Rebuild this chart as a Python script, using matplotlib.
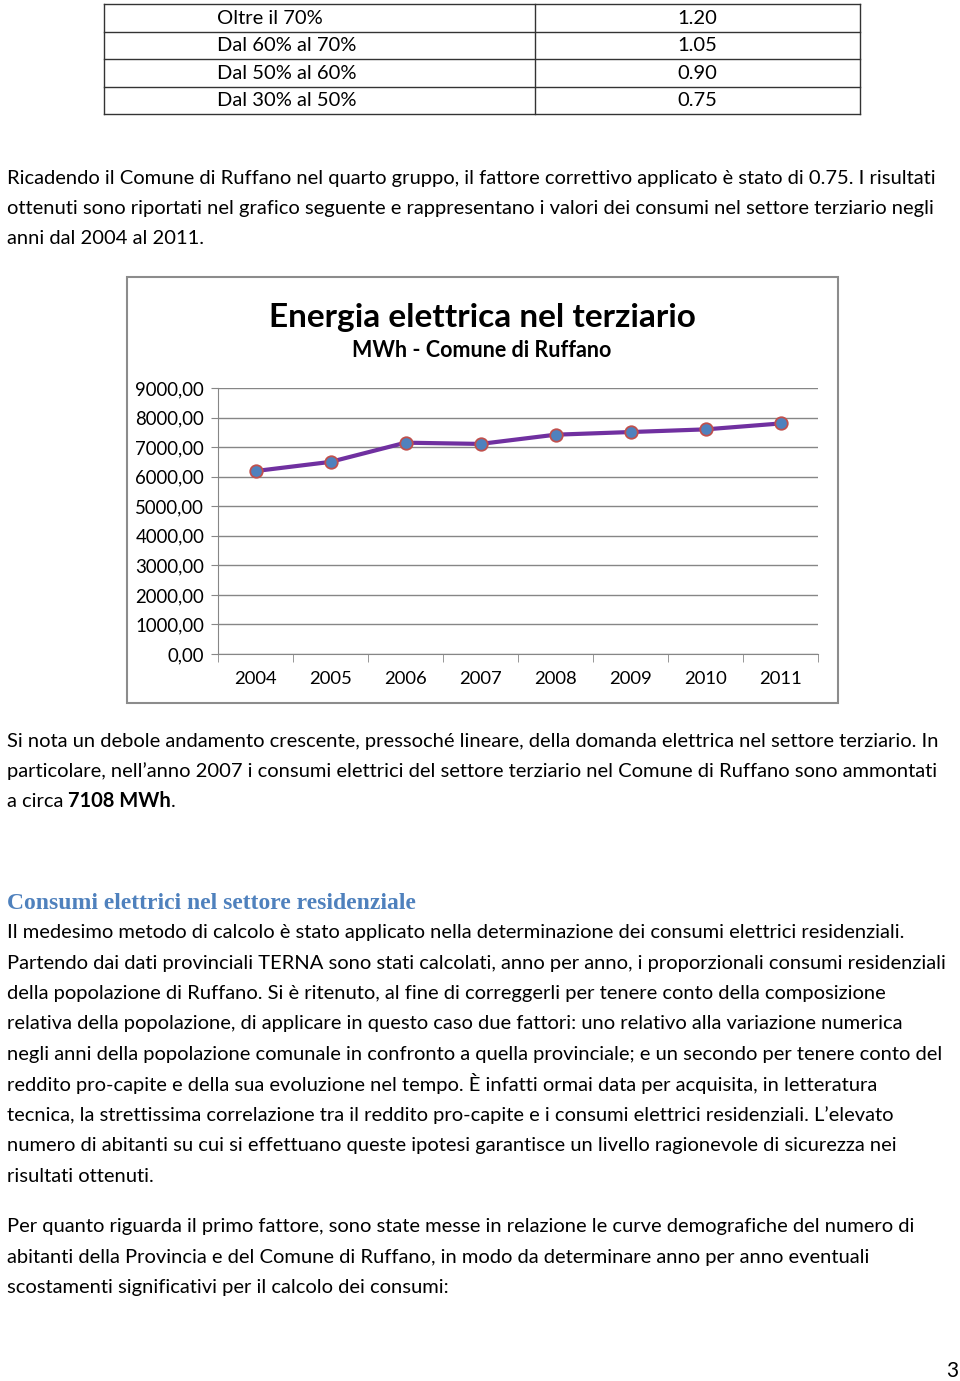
import matplotlib
matplotlib.use("Agg")
from matplotlib import pyplot as plt
from matplotlib.patches import Rectangle
from matplotlib.lines import Line2D

W, H = 960, 1381

# tabella fattori correttivi
fasce = ['Oltre il 70%', 'Dal 60% al 70%', 'Dal 50% al 60%', 'Dal 30% al 50%']
fattori = ['1.20', '1.05', '0.90', '0.75']

# dati del grafico
anni = ['2004', '2005', '2006', '2007', '2008', '2009', '2010', '2011']
consumi_mwh = [6190, 6500, 7150, 7108, 7420, 7510, 7600, 7800]
y_ticks = [0, 1000, 2000, 3000, 4000, 5000, 6000, 7000, 8000, 9000]

par_1 = ['Ricadendo il Comune di Ruffano nel quarto gruppo, il fattore correttivo applicato è stato di 0.75. I risultati',
         'ottenuti sono riportati nel grafico seguente e rappresentano i valori dei consumi nel settore terziario negli',
         'anni dal 2004 al 2011.']
par_2 = ['Si nota un debole andamento crescente, pressoché lineare, della domanda elettrica nel settore terziario. In',
         'particolare, nell’anno 2007 i consumi elettrici del settore terziario nel Comune di Ruffano sono ammontati']
titolo_sez = 'Consumi elettrici nel settore residenziale'
par_3 = ['Il medesimo metodo di calcolo è stato applicato nella determinazione dei consumi elettrici residenziali.',
         'Partendo dai dati provinciali TERNA sono stati calcolati, anno per anno, i proporzionali consumi residenziali',
         'della popolazione di Ruffano. Si è ritenuto, al fine di correggerli per tenere conto della composizione',
         'relativa della popolazione, di applicare in questo caso due fattori: uno relativo alla variazione numerica',
         'negli anni della popolazione comunale in confronto a quella provinciale; e un secondo per tenere conto del',
         'reddito pro-capite e della sua evoluzione nel tempo. È infatti ormai data per acquisita, in letteratura',
         'tecnica, la strettissima correlazione tra il reddito pro-capite e i consumi elettrici residenziali. L’elevato',
         'numero di abitanti su cui si effettuano queste ipotesi garantisce un livello ragionevole di sicurezza nei',
         'risultati ottenuti.']
par_4 = ['Per quanto riguarda il primo fattore, sono state messe in relazione le curve demografiche del numero di',
         'abitanti della Provincia e del Comune di Ruffano, in modo da determinare anno per anno eventuali',
         'scostamenti significativi per il calcolo dei consumi:']

FONT = 'Lato'
BODY = 14.5
plt.rcParams['font.family'] = [FONT, 'DejaVu Sans']

fig = plt.figure(figsize=(W / 100, H / 100), dpi=100)


def txt(x, y, s, **kw):
    # coordinate in pixel dall'alto a sinistra
    kw.setdefault('fontsize', BODY)
    kw.setdefault('va', 'baseline')
    return fig.text(x / W, 1 - y / H, s, **kw)


def hline(x0, x1, y, **kw):
    fig.add_artist(Line2D([x0 / W, x1 / W], [1 - y / H, 1 - y / H], transform=fig.transFigure, **kw))


def vline(x, y0, y1, **kw):
    fig.add_artist(Line2D([x / W, x / W], [1 - y0 / H, 1 - y1 / H], transform=fig.transFigure, **kw))


# --- tabella ---
righe_y = [4, 31.5, 59, 86.5, 114]
for y in righe_y:
    hline(104, 860, y, color='#333333', lw=1)
for x in [104, 535, 860]:
    vline(x, 4, 114, color='#333333', lw=1)
for i, (f, v) in enumerate(zip(fasce, fattori)):
    yb = (righe_y[i] + righe_y[i + 1]) / 2 + 6
    txt(217, yb, f)
    txt(697, yb, v, ha='center')

# --- testo ---
for i, riga in enumerate(par_1):
    txt(7, 184 + i * 30, riga)
for i, riga in enumerate(par_2):
    txt(7, 747 + i * 30, riga)

fig.canvas.draw()
r = fig.canvas.get_renderer()
t = txt(7, 807, 'a circa ')
x_cur = 7 + t.get_window_extent(r).width
t = txt(x_cur, 807, '7108 MWh', fontweight='bold')
x_cur += t.get_window_extent(r).width
txt(x_cur, 807, '.')

txt(7, 909, titolo_sez, family='Liberation Serif', fontweight='bold', fontsize=17, color='#4F81BD')
for i, riga in enumerate(par_3):
    txt(7, 938 + i * 30.5, riga)
for i, riga in enumerate(par_4):
    txt(7, 1232 + i * 30.5, riga)
txt(952, 1377, '3', ha='center', fontsize=15)

# --- grafico ---
fig.add_artist(Rectangle((127 / W, 1 - 703 / H), (838 - 127) / W, (703 - 277) / H,
                         transform=fig.transFigure, fill=False, edgecolor='#8c8c8c', lw=1.5))
txt(482, 327, 'Energia elettrica nel terziario', ha='center', fontsize=24, fontweight='bold')
txt(482, 357, 'MWh - Comune di Ruffano', ha='center', fontsize=15.5, fontweight='bold')

ax = fig.add_axes([218 / W, 1 - 654 / H, 600 / W, 266 / H])
xs = list(range(len(anni)))
ax.plot(xs, consumi_mwh, color='#7030A0', lw=3, marker='o', markersize=9,
        markerfacecolor='#4F81BD', markeredgecolor='#C0504D', markeredgewidth=1.3, zorder=3)
ax.set_xlim(-0.5, len(anni) - 0.5)
ax.set_ylim(0, 9000)
ax.set_yticks(y_ticks)
ax.set_yticklabels([f'{v},00' for v in y_ticks], fontsize=13.4)
ax.set_xticks(xs)
ax.set_xticklabels(anni, fontsize=13.3)
ax.set_xticks([i - 0.5 for i in range(len(anni) + 1)], minor=True)
ax.tick_params(axis='x', which='major', length=0, pad=12)
ax.tick_params(axis='x', which='minor', length=6, color='#868686', direction='out')
ax.tick_params(axis='y', length=5, color='#868686', pad=5)
ax.grid(axis='y', color='#868686', lw=1)
ax.set_axisbelow(True)
for s in ['top', 'right']:
    ax.spines[s].set_visible(False)
for s in ['left', 'bottom']:
    ax.spines[s].set_color('#868686')

fig.savefig('out.png', dpi=100)
